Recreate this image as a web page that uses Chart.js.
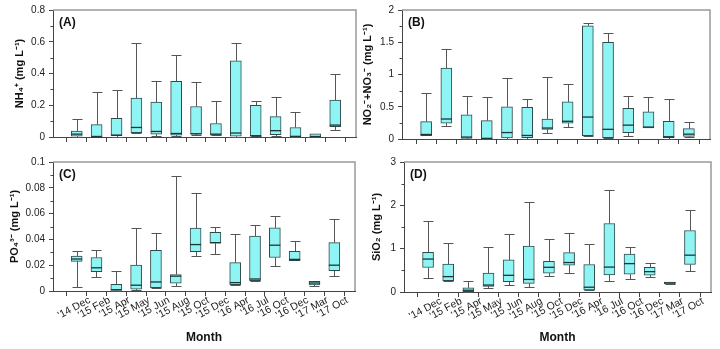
<!DOCTYPE html>
<html>
<head>
<meta charset="utf-8">
<script src="https://cdn.jsdelivr.net/npm/chart.js@4.4.1/dist/chart.umd.min.js"></script>
<style>
  html, body { margin: 0; padding: 0; background: #fff; }
  #wrap { position: relative; width: 720px; height: 349px; overflow: hidden; }
  canvas { position: absolute; }
</style>
</head>
<body>
<div id="wrap">
  <canvas id="chartA" width="360" height="150" style="left:0;top:0"></canvas>
  <canvas id="chartB" width="360" height="150" style="left:360px;top:0"></canvas>
  <canvas id="chartC" width="360" height="199" style="left:0;top:150px"></canvas>
  <canvas id="chartD" width="360" height="199" style="left:360px;top:150px"></canvas>
</div>
<script>
// sampling months
var months = ["'14 Dec", "'15 Feb", "'15 Apr", "'15 May", "'15 Jun", "'15 Aug", "'15 Oct",
              "'15 Dec", "'16 Apr", "'16 Jul", "'16 Oct", "'16 Dec", "'17 Mar", "'17 Oct"];

// NH4+ box stats
var nh4Min = [0, 0, 0, 0.025, 0.005, 0.005, 0.015, 0.01, 0, 0.005, 0.005, 0, 0, 0.047];
var nh4Q1  = [0.005, 0, 0.008, 0.028, 0.018, 0.012, 0.018, 0.012, 0.005, 0.006, 0.015, 0.002, 0.001, 0.065];
var nh4Med = [0.018, 0.002, 0.012, 0.06, 0.035, 0.022, 0.02, 0.018, 0.025, 0.008, 0.04, 0.004, 0.003, 0.075];
var nh4Q3  = [0.038, 0.078, 0.118, 0.245, 0.22, 0.35, 0.192, 0.085, 0.48, 0.2, 0.128, 0.06, 0.02, 0.232];
var nh4Max = [0.115, 0.285, 0.295, 0.59, 0.355, 0.515, 0.345, 0.225, 0.595, 0.225, 0.25, 0.155, 0.02, 0.395];

// NO2- + NO3-
var noMin = [0.05, 0.195, 0, 0, 0, 0.005, 0.09, 0.18, 0.045, 0.01, 0.04, 0.17, 0, 0.03];
var noQ1  = [0.05, 0.245, 0.01, 0.005, 0.015, 0.02, 0.15, 0.245, 0.05, 0.02, 0.1, 0.17, 0.02, 0.04];
var noMed = [0.07, 0.31, 0.03, 0.01, 0.1, 0.055, 0.17, 0.275, 0.34, 0.15, 0.215, 0.185, 0.035, 0.075];
var noQ3  = [0.27, 1.1, 0.375, 0.285, 0.5, 0.49, 0.31, 0.575, 1.755, 1.5, 0.475, 0.42, 0.275, 0.16];
var noMax = [0.72, 1.4, 0.665, 0.645, 0.94, 0.62, 0.955, 0.845, 1.8, 1.645, 0.67, 0.655, 0.615, 0.26];

// PO4 3-
var po4Min = [0.003, 0.011, 0, 0.001, 0.002, 0.004, 0.0275, 0.029, 0.0045, 0.0078, 0.0195, 0.0235, 0.004, 0.0115];
var po4Q1  = [0.023, 0.015, 0.0005, 0.0015, 0.0025, 0.006, 0.0305, 0.037, 0.005, 0.008, 0.026, 0.0235, 0.0047, 0.0157];
var po4Med = [0.0248, 0.018, 0.001, 0.0045, 0.007, 0.0115, 0.036, 0.0375, 0.0065, 0.0093, 0.0355, 0.0245, 0.0062, 0.02];
var po4Q3  = [0.027, 0.026, 0.0052, 0.02, 0.0315, 0.0128, 0.0487, 0.0454, 0.022, 0.0425, 0.049, 0.0307, 0.0075, 0.0375];
var po4Max = [0.031, 0.0315, 0.0157, 0.049, 0.045, 0.089, 0.0757, 0.05, 0.0445, 0.0515, 0.058, 0.0387, 0.008, 0.0557];

// SiO2
var sioMin = [0.32, 0.255, 0, 0.085, 0.16, 0.12, 0.365, 0.45, 0.04, 0.25, 0.29, 0.335, 0.18, 0.49];
var sioQ1  = [0.565, 0.26, 0.01, 0.13, 0.24, 0.2, 0.435, 0.62, 0.05, 0.395, 0.41, 0.39, 0.19, 0.635];
var sioMed = [0.76, 0.355, 0.04, 0.16, 0.385, 0.29, 0.57, 0.68, 0.11, 0.575, 0.655, 0.47, 0.21, 0.85];
var sioQ3  = [0.915, 0.645, 0.095, 0.435, 0.74, 1.06, 0.71, 0.91, 0.635, 1.58, 0.875, 0.57, 0.23, 1.42];
var sioMax = [1.63, 1.13, 0.265, 1.035, 1.345, 2.08, 1.22, 1.36, 1.1, 2.36, 1.035, 0.67, 0.235, 1.89];

Chart.defaults.font.family = "'Liberation Sans', Arial, sans-serif";
Chart.defaults.font.size = 10;
Chart.defaults.color = '#222';

// whiskers, medians, frame and minor ticks drawn on top of the floating bars
var boxParts = {
    id: 'boxParts',
    beforeDatasetsDraw: function(chart) {
        var ds = chart.data.datasets[0];
        var xs = chart.scales.x, ys = chart.scales.y;
        var ctx = chart.ctx;
        ctx.save();
        ctx.strokeStyle = '#555';
        ctx.lineWidth = 1;
        ds.lo.forEach(function(lo, i) {
            var px = Math.round(xs.getPixelForValue(i)) + 0.5;
            var ends = [[ds.data[i].y[1], ds.hi[i]], [ds.data[i].y[0], lo]];
            ends.forEach(function(e) {
                if (e[0] === e[1]) return;
                var a = ys.getPixelForValue(e[0]);
                var b = Math.round(ys.getPixelForValue(e[1])) + 0.5;
                ctx.beginPath();
                ctx.moveTo(px, a);
                ctx.lineTo(px, b);
                ctx.moveTo(px - 5, b);
                ctx.lineTo(px + 5, b);
                ctx.stroke();
            });
        });
        ctx.restore();
    },
    afterDatasetsDraw: function(chart) {
        var ds = chart.data.datasets[0];
        var meta = chart.getDatasetMeta(0);
        var ys = chart.scales.y;
        var ctx = chart.ctx;
        ctx.save();
        ctx.strokeStyle = '#1f3535';
        ctx.lineWidth = 1.3;
        meta.data.forEach(function(bar, i) {
            var py = ys.getPixelForValue(ds.med[i]);
            ctx.beginPath();
            ctx.moveTo(bar.x - bar.width / 2, py);
            ctx.lineTo(bar.x + bar.width / 2, py);
            ctx.stroke();
        });
        ctx.restore();
    },
    afterDraw: function(chart) {
        var a = chart.chartArea;
        var ys = chart.scales.y;
        var ctx = chart.ctx;
        ctx.save();
        // top and right edges of the frame
        ctx.strokeStyle = '#999';
        ctx.lineWidth = 1.5;
        ctx.beginPath();
        ctx.moveTo(a.left, a.top);
        ctx.lineTo(a.right, a.top);
        ctx.lineTo(a.right, a.bottom);
        ctx.stroke();
        // minor ticks halfway between the labelled ones
        var step = chart.options.scales.y.ticks.stepSize;
        ctx.strokeStyle = '#444';
        ctx.lineWidth = 1;
        for (var v = step / 2; v < ys.max; v += step) {
            var py = Math.round(ys.getPixelForValue(v)) + 0.5;
            ctx.beginPath();
            ctx.moveTo(a.left - 2.5, py);
            ctx.lineTo(a.left, py);
            ctx.stroke();
        }
        // panel tag
        ctx.fillStyle = '#111';
        ctx.font = "bold 12px 'Liberation Sans', Arial, sans-serif";
        ctx.textBaseline = 'top';
        ctx.fillText(chart.data.datasets[0].tag, a.left + 6, a.top + 7);
        ctx.restore();
    }
};

function boxChart(id, p) {
    var points = p.q1.map(function(q, i) {
        return { x: i, y: [q, p.q3[i]] };
    });
    var monthTitle = p.bottom;
    return new Chart(document.getElementById(id), {
        type: 'bar',
        data: {
            datasets: [{
                data: points,
                lo: p.min,
                hi: p.max,
                med: p.med,
                tag: p.tag,
                backgroundColor: '#8ef4f4',
                borderColor: '#2f4a4a',
                borderWidth: 1,
                borderSkipped: false,
                barThickness: 11
            }]
        },
        options: {
            responsive: false,
            animation: false,
            layout: { padding: { top: p.padTop, right: p.padRight, left: 0, bottom: 0 } },
            plugins: { legend: { display: false }, tooltip: { enabled: false } },
            scales: {
                x: {
                    type: 'linear',
                    min: -0.65,
                    max: 13.5,
                    afterFit: function(s) { s.height = p.xHeight; },
                    border: { color: '#444', width: 1 },
                    grid: { drawOnChartArea: false, tickLength: 5, color: '#444' },
                    ticks: {
                        stepSize: 1,
                        includeBounds: false,
                        autoSkip: false,
                        display: monthTitle,
                        minRotation: 28,
                        maxRotation: 28,
                        labelOffset: 13,
                        padding: -2,
                        font: { size: 10.5 },
                        callback: function(v) { return months[v]; }
                    },
                    title: {
                        display: monthTitle,
                        text: 'Month',
                        color: '#111',
                        font: { size: 12, weight: 'bold' },
                        padding: { top: 0, bottom: 4 }
                    }
                },
                y: {
                    min: 0,
                    max: p.yMax,
                    afterFit: function(s) { s.width = p.yWidth; },
                    border: { color: '#444', width: 1 },
                    grid: { drawOnChartArea: false, tickLength: 4, color: '#444' },
                    ticks: {
                        stepSize: p.yStep,
                        padding: 4,
                        callback: function(v) { return String(+v.toFixed(4)); }
                    },
                    title: {
                        display: true,
                        text: p.title,
                        color: '#111',
                        font: { size: 11, weight: 'bold' },
                        padding: { top: p.titlePad, bottom: 0 }
                    }
                }
            }
        },
        plugins: [boxParts]
    });
}

document.addEventListener('DOMContentLoaded', function() {
    boxChart('chartA', {
        min: nh4Min, q1: nh4Q1, med: nh4Med, q3: nh4Q3, max: nh4Max,
        tag: '(A)', title: 'NH\u2084\u207A (mg L\u207B\u00B9)',
        yMax: 0.8, yStep: 0.2, yWidth: 53, titlePad: 13,
        padTop: 7, padRight: 4, xHeight: 13, bottom: false
    });
    boxChart('chartB', {
        min: noMin, q1: noQ1, med: noMed, q3: noQ3, max: noMax,
        tag: '(B)', title: 'NO\u2082\u207B+NO\u2083\u207B (mg L\u207B\u00B9)',
        yMax: 2, yStep: 0.5, yWidth: 42, titlePad: 1.5,
        padTop: 9, padRight: 10, xHeight: 11, bottom: false
    });
    boxChart('chartC', {
        min: po4Min, q1: po4Q1, med: po4Med, q3: po4Q3, max: po4Max,
        tag: '(C)', title: 'PO\u2084\u00B3\u207B (mg L\u207B\u00B9)',
        yMax: 0.1, yStep: 0.02, yWidth: 53, titlePad: 8,
        padTop: 12, padRight: 5, xHeight: 58, bottom: true
    });
    boxChart('chartD', {
        min: sioMin, q1: sioQ1, med: sioMed, q3: sioQ3, max: sioMax,
        tag: '(D)', title: 'SiO\u2082 (mg L\u207B\u00B9)',
        yMax: 3, yStep: 1, yWidth: 44, titlePad: 10,
        padTop: 12, padRight: 9, xHeight: 57, bottom: true
    });
});
</script>
</body>
</html>
